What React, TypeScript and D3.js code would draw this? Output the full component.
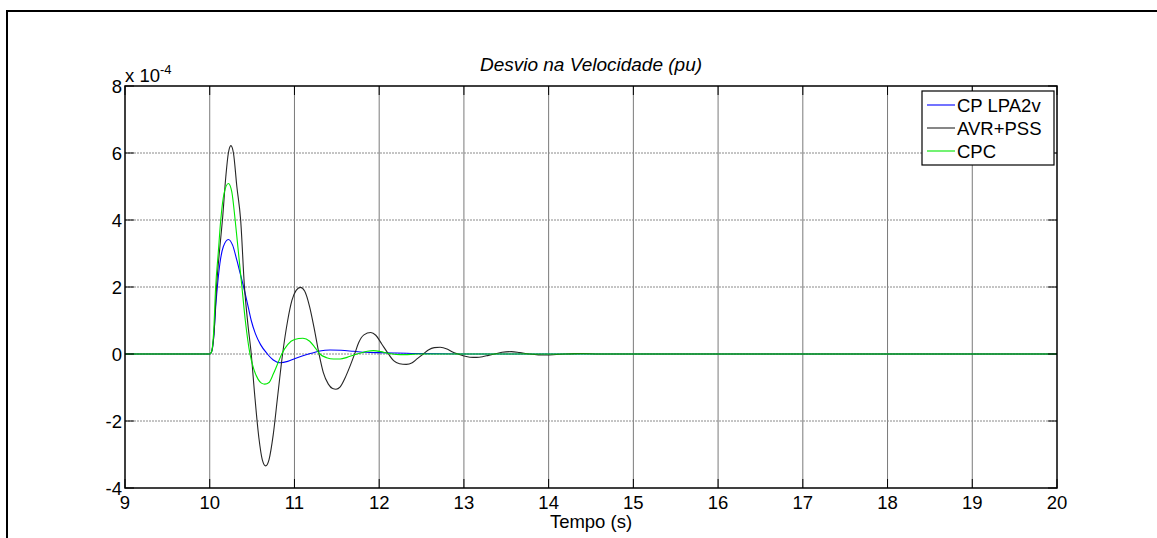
import React from "react";
import * as d3 from "d3";

const xTicks = [9, 10, 11, 12, 13, 14, 15, 16, 17, 18, 19, 20];
const yTicks = [-4, -2, 0, 2, 4, 6, 8];
const seriesNames = ["CP LPA2v", "AVR+PSS", "CPC"];
const seriesColors = ["#0000ff", "#262626", "#00e800"];

// values in units of 1e-4 pu
const blueData: [number, number][] = [
  [9, 0], [10, 0], [10.02, 0.05], [10.05, 0.6], [10.07, 1.4], [10.09, 2.0], [10.12, 2.7], [10.16, 3.2],
  [10.22, 3.42], [10.27, 3.25], [10.32, 2.8], [10.36, 2.4], [10.4, 2.0], [10.45, 1.45], [10.49, 1.0],
  [10.54, 0.6], [10.6, 0.28], [10.68, 0], [10.75, -0.18], [10.83, -0.26], [10.92, -0.22], [11.0, -0.14],
  [11.1, -0.05], [11.2, 0.02], [11.3, 0.09], [11.42, 0.12], [11.55, 0.11], [11.7, 0.08], [11.85, 0.05],
  [12.0, 0.04], [12.2, 0.03], [12.5, 0.01], [13, 0], [20, 0],
];
const blackData: [number, number][] = [
  [9, 0], [10, 0], [10.02, 0.05], [10.05, 0.6], [10.08, 2.0], [10.12, 3.2], [10.15, 4.0], [10.19, 5.3],
  [10.22, 6.0], [10.25, 6.22], [10.28, 6.0], [10.32, 5.0], [10.365, 4.0], [10.41, 2.0], [10.45, 0.9],
  [10.49, 0], [10.53, -1.2], [10.58, -2.5], [10.62, -3.15], [10.66, -3.34], [10.7, -3.15], [10.75, -2.4],
  [10.8, -1.3], [10.86, 0], [10.92, 1.0], [10.97, 1.6], [11.02, 1.9], [11.07, 1.99], [11.12, 1.88],
  [11.18, 1.4], [11.23, 0.8], [11.29, 0], [11.34, -0.55], [11.4, -0.9], [11.45, -1.03], [11.49, -1.05],
  [11.54, -0.98], [11.6, -0.7], [11.65, -0.4], [11.71, 0], [11.76, 0.35], [11.82, 0.57], [11.9, 0.64],
  [11.96, 0.56], [12.03, 0.3], [12.11, 0], [12.17, -0.2], [12.24, -0.29], [12.32, -0.31], [12.39, -0.26],
  [12.45, -0.14], [12.52, 0], [12.58, 0.12], [12.65, 0.19], [12.72, 0.2], [12.8, 0.15], [12.86, 0.07],
  [12.93, 0], [13.0, -0.06], [13.07, -0.095], [13.15, -0.1], [13.22, -0.08], [13.29, -0.04], [13.36, 0],
  [13.45, 0.05], [13.56, 0.07], [13.66, 0.04], [13.77, 0], [13.88, -0.025], [13.98, -0.03], [14.09, -0.015],
  [14.19, 0], [14.3, 0.012], [14.4, 0.015], [14.6, 0], [20, 0],
];
const greenData: [number, number][] = [
  [9, 0], [10, 0], [10.02, 0.05], [10.045, 0.6], [10.07, 2.0], [10.1, 3.0], [10.13, 4.0], [10.17, 4.8],
  [10.22, 5.09], [10.26, 4.85], [10.3, 4.0], [10.34, 3.0], [10.38, 2.0], [10.42, 1.0], [10.475, 0],
  [10.52, -0.45], [10.57, -0.75], [10.61, -0.87], [10.65, -0.9], [10.7, -0.85], [10.75, -0.6], [10.8, -0.3],
  [10.85, 0], [10.92, 0.28], [11.0, 0.43], [11.1, 0.47], [11.18, 0.38], [11.24, 0.2], [11.3, 0],
  [11.38, -0.11], [11.46, -0.15], [11.54, -0.15], [11.62, -0.1], [11.7, -0.03], [11.78, 0.03], [11.86, 0.08],
  [11.93, 0.1], [12.02, 0.07], [12.1, 0.02], [12.2, -0.015], [12.3, -0.02], [12.45, 0], [20, 0],
];

const FONT = "Liberation Sans, Arial, Helvetica, sans-serif";

export default function App() {
  const W = 1157, H = 538;
  const L = 125, R = 1057, T = 86, B = 488;
  const x = d3.scaleLinear().domain([9, 20]).range([L, R]);
  const y = d3.scaleLinear().domain([-4, 8]).range([B, T]);
  const line = d3
    .line<[number, number]>()
    .x((d) => x(d[0]))
    .y((d) => y(d[1]))
    .curve(d3.curveMonotoneX);
  const datasets = [blueData, blackData, greenData];
  const tickLen = 9;
  const legX = 922, legY = 91, legW = 132, legH = 74, rowH = 23;

  return (
    <svg
      width={W}
      height={H}
      style={{ position: "absolute", left: 0, top: 0, display: "block", background: "#fff" }}
      fontFamily={FONT}
    >
      <rect x={0} y={0} width={W} height={H} fill="#fff" />
      {/* figure border */}
      <path d={`M7,${H + 2} L7,11 L${W + 2},11`} fill="none" stroke="#000" strokeWidth={2} />
      {/* grid */}
      {xTicks.slice(1, -1).map((t) => (
        <line key={"gx" + t} x1={x(t)} x2={x(t)} y1={T} y2={B} stroke="#7a7a7a" strokeWidth={1} />
      ))}
      {yTicks.slice(1, -1).map((t) => (
        <line key={"gy" + t} x1={L} x2={R} y1={y(t)} y2={y(t)} stroke="#8a8a8a" strokeWidth={1} strokeDasharray="2,1" />
      ))}
      {/* series */}
      {datasets.map((d, i) => (
        <path key={"s" + i} d={line(d) || ""} fill="none" stroke={seriesColors[i]} strokeWidth={1.1} />
      ))}
      {/* axes box */}
      <rect x={L} y={T} width={R - L} height={B - T} fill="none" stroke="#000" strokeWidth={1.5} />
      {/* ticks */}
      {xTicks.map((t) => (
        <g key={"tx" + t}>
          <line x1={x(t)} x2={x(t)} y1={B} y2={B - tickLen} stroke="#000" strokeWidth={1} />
          <line x1={x(t)} x2={x(t)} y1={T} y2={T + tickLen} stroke="#000" strokeWidth={1} />
          <text x={x(t)} y={509} fontSize={18.5} textAnchor="middle" fill="#000">
            {t}
          </text>
        </g>
      ))}
      {yTicks.map((t) => (
        <g key={"ty" + t}>
          <line x1={L} x2={L + tickLen} y1={y(t)} y2={y(t)} stroke="#000" strokeWidth={1} />
          <line x1={R} x2={R - tickLen} y1={y(t)} y2={y(t)} stroke="#000" strokeWidth={1} />
          <text x={L - 3} y={y(t) + 6.5} fontSize={18.5} textAnchor="end" fill="#000">
            {t}
          </text>
        </g>
      ))}
      {/* exponent */}
      <text x={125} y={82} fontSize={18.5} fill="#000">
        x 10
        <tspan dy={-8} fontSize={13}>-4</tspan>
      </text>
      {/* title */}
      <text x={(L + R) / 2} y={71} fontSize={19} fontStyle="italic" textAnchor="middle" fill="#000">
        Desvio na Velocidade (pu)
      </text>
      {/* x label */}
      <text x={(L + R) / 2} y={528} fontSize={18.5} textAnchor="middle" fill="#000">
        Tempo (s)
      </text>
      {/* legend */}
      <rect x={legX} y={legY} width={legW} height={legH} fill="#fff" stroke="#000" strokeWidth={1.2} />
      {seriesNames.map((n, i) => {
        const cy = legY + 14 + i * rowH;
        return (
          <g key={"l" + i}>
            <line x1={legX + 5} x2={legX + 33} y1={cy} y2={cy} stroke={seriesColors[i]} strokeWidth={1.1} />
            <text x={legX + 35} y={cy + 6.5} fontSize={18.5} fill="#000">
              {n}
            </text>
          </g>
        );
      })}
    </svg>
  );
}
